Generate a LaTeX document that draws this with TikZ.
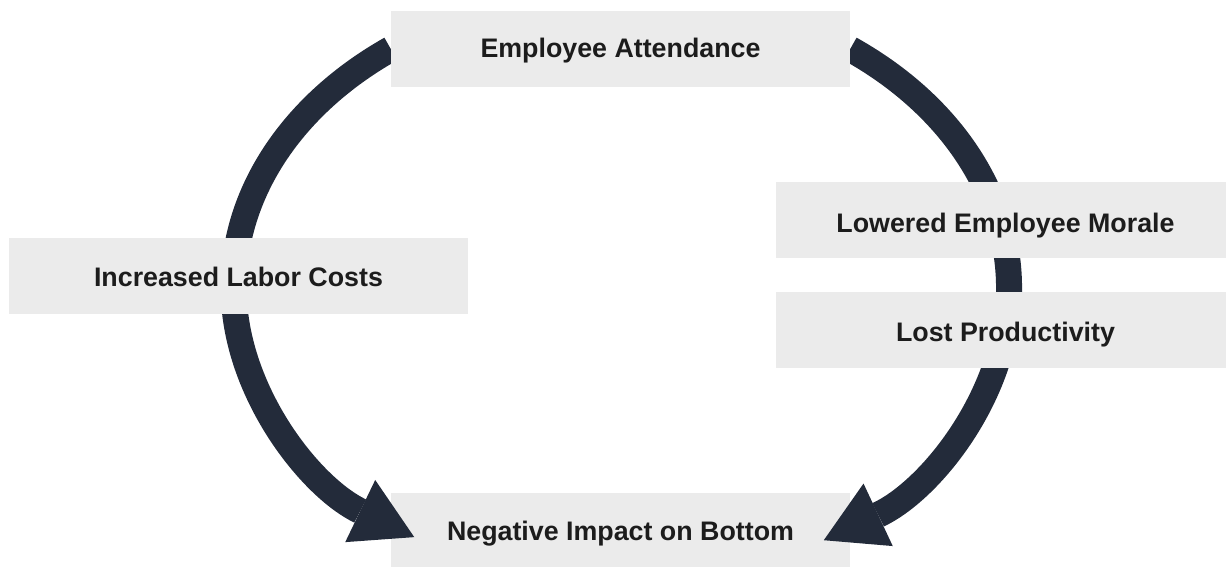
\documentclass[tikz,border=0pt]{standalone}
\usepackage{fontspec}
\setmainfont{Liberation Sans}
\usetikzlibrary{arrows.meta}
\definecolor{boxgray}{HTML}{EBEBEB}
\definecolor{arrowdark}{HTML}{232B3A}
\definecolor{textdark}{HTML}{1C1C1C}
\pgfdeclarelayer{back}
\pgfdeclarelayer{mid}
\pgfsetlayers{back,mid,main}
\begin{document}
\begin{tikzpicture}[x=1pt,y=1pt,
  box/.style={fill=boxgray, minimum width=459pt, minimum height=76pt, inner sep=0pt,
    text=textdark, text height=19pt, text depth=0pt,
    font=\fontsize{26.8}{32}\selectfont\bfseries},
  loop/.style={draw=arrowdark, line width=26pt,
    -{Triangle[length=60pt,width=69pt,line width=0pt]}}]
\useasboundingbox (0,0) rectangle (1226,567);
\clip (0,0) rectangle (1226,567);
\node[box, text height=17.8pt] (EA) at (620.5,518) {Employee Attendance};
\node[box, text height=26pt] (LM) at (1005.5,347.1) {Lowered Employee Morale};
\node[box, text height=23.6pt] (LP) at (1005.5,237.1) {Lost Productivity};
\node[box, text height=22.2pt] (IL) at (238.5,291.3) {Increased Labor Costs};
\begin{pgfonlayer}{back}
\node[box] (NB) at (620.5,36) {Negative Impact on Bottom};
\end{pgfonlayer}
\begin{pgfonlayer}{mid}
\draw[loop] (EA.west) arc[start angle=126.5, end angle=237.7, x radius=388, y radius=296];
\draw[loop] (EA.east) arc[start angle=53.8, end angle=-58.5, x radius=388, y radius=296];
\end{pgfonlayer}
\end{tikzpicture}
\end{document}
